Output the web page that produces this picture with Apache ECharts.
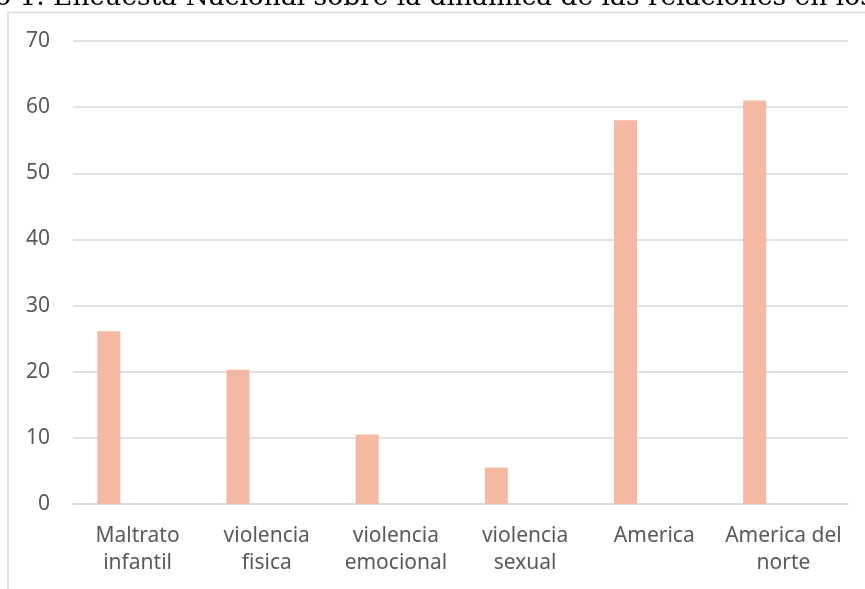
<!DOCTYPE html>
<html>
<head>
<meta charset="utf-8">
<script src="https://cdn.jsdelivr.net/npm/echarts@6/dist/echarts.min.js"></script>
<style>
	html, body { margin: 0; padding: 0; background: #fff; }
	#chart { width: 865px; height: 589px; }
</style>
</head>
<body>
<div id="chart"></div>
<script>
// datos
var categorias = ['Maltrato\ninfantil', 'violencia\nfisica', 'violencia\nemocional', 'violencia\nsexual', 'America', 'America del\nnorte'];
var valores = [26.1, 20.3, 10.5, 5.5, 58, 61];
var vacio = ['-', '-', '-', '-', '-', '-'];
var ticksY = [0, 10, 20, 30, 40, 50, 60, 70];
var titulo = 'o 1. Encuesta Nacional sobre la dinámica de las relaciones en los';

var myChart = echarts.init(document.getElementById('chart'));
var option = {
	animation: false,
	backgroundColor: '#fff',
	graphic: [
		{
			type: 'polyline',
			shape: { points: [[8, 589], [8, 12.5], [865, 12.5]] },
			style: { stroke: '#d9d9d9', lineWidth: 1.5, fill: null }
		},
		{
			type: 'text', left: -5, top: -15,
			style: { text: titulo, font: '26.5px "DejaVu Serif"', fill: '#000' }
		}
	],
	grid: { left: 73, right: 17, top: 41, bottom: 85 },
	xAxis: {
		type: 'category',
		data: categorias,
		axisTick: { show: false },
		axisLine: { lineStyle: { color: '#d9d9d9', width: 1.5 } },
		axisLabel: {
			color: '#595959', fontSize: 21, fontFamily: 'Noto Sans',
			lineHeight: 27, margin: 19, interval: 0
		}
	},
	yAxis: {
		type: 'value',
		min: ticksY[0], max: ticksY[ticksY.length - 1], interval: 10,
		axisLine: { show: false },
		axisTick: { show: false },
		splitLine: { lineStyle: { color: '#d9d9d9', width: 1.5 } },
		axisLabel: { color: '#595959', fontSize: 21, fontFamily: 'Noto Sans', margin: 23 }
	},
	series: [
		{
			type: 'bar', data: valores, barWidth: 23, barGap: '150%',
			itemStyle: { color: '#f4b8a3' }
		},
		{
			type: 'bar', data: vacio, barWidth: 23,
			itemStyle: { color: '#f4b8a3' }
		}
	]
};
myChart.setOption(option);
</script>
</body>
</html>
